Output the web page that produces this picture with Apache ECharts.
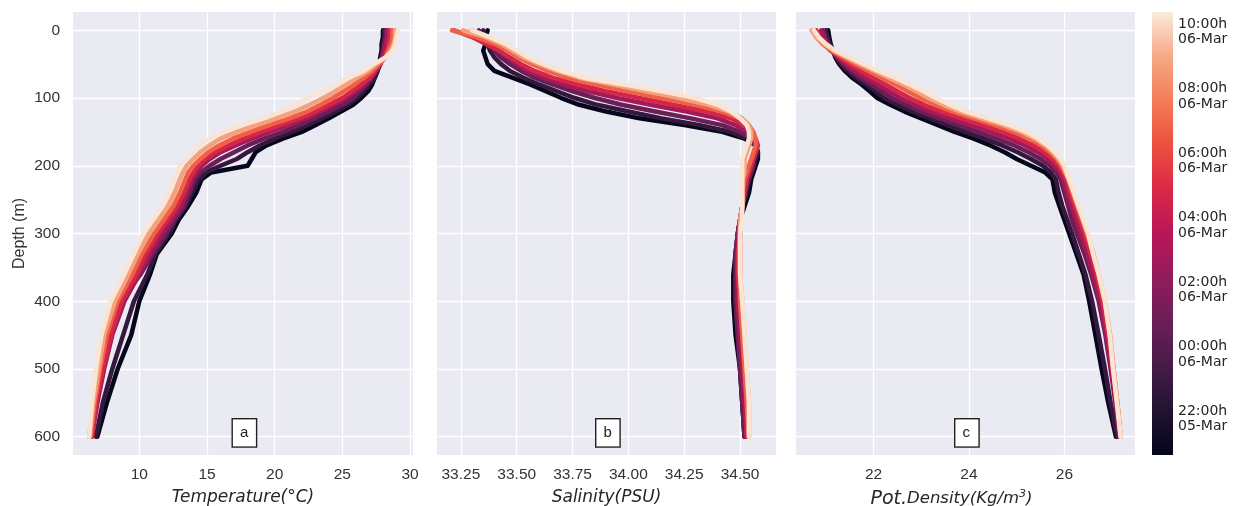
<!DOCTYPE html>
<html><head><meta charset="utf-8">
<script src="https://cdn.jsdelivr.net/npm/echarts@6/dist/echarts.min.js"></script>
<style>html,body{margin:0;padding:0;background:#fff}#c{width:1234px;height:506px}</style>
</head><body><div id="c"></div>
<script>
// ---- data ----
const depths = [0,10,20,30,40,50,60,70,80,90,100,110,120,130,140,150,160,170,180,190,200,210,220,240,260,280,300,330,360,400,450,500,550,600];
// profile times in hours since 05-Mar 00:00
const profileTimes = [21.0, 23.0, 25.0, 27.0, 29.0, 31.0, 33.0, 34.5];
const temperature = [
 [28.0,28.0,27.9,27.9,27.8,27.7,27.6,27.4,27.2,26.9,26.4,25.8,24.9,24.0,23.0,22.0,20.6,19.4,18.6,18.3,18.0,15.3,14.6,14.2,13.6,12.9,12.4,11.3,10.8,10.0,9.4,8.4,7.6,6.9],
 [28.1,28.1,28.0,28.0,27.9,27.8,27.6,27.4,27.0,26.6,26.1,25.4,24.5,23.5,22.4,21.3,20.0,18.9,18.0,17.2,16.0,14.9,14.4,13.9,13.4,12.7,12.2,11.2,10.6,9.6,8.8,8.0,7.3,6.8],
 [28.2,28.2,28.1,28.0,27.9,27.7,27.5,27.2,26.8,26.3,25.8,25.0,24.0,22.9,21.8,20.6,19.2,18.0,17.0,16.0,15.2,14.5,14.1,13.7,13.3,12.6,12.0,11.0,10.1,8.6,7.8,7.2,6.7,6.3],
 [28.3,28.3,28.2,28.1,28.0,27.8,27.5,27.1,26.6,26.0,25.3,24.4,23.4,22.3,21.0,19.6,18.3,17.1,16.0,15.2,14.6,14.2,13.9,13.5,13.1,12.4,11.7,10.8,10.0,8.9,8.0,7.4,6.9,6.5],
 [28.5,28.5,28.4,28.3,28.1,27.8,27.4,27.0,26.4,25.7,25.0,24.0,23.0,21.8,20.4,19.0,17.7,16.6,15.6,14.9,14.3,14.0,13.7,13.3,12.8,12.1,11.4,10.5,9.8,8.7,7.9,7.3,6.8,6.5],
 [28.7,28.7,28.6,28.4,28.2,27.7,27.2,26.6,25.9,25.1,24.3,23.4,22.4,21.1,19.6,18.2,16.9,15.9,15.1,14.5,14.0,13.6,13.4,13.0,12.5,11.8,11.1,10.2,9.5,8.4,7.6,7.1,6.7,6.4],
 [28.9,28.9,28.8,28.6,28.2,27.5,26.9,26.1,25.3,24.5,23.6,22.6,21.5,20.1,18.6,17.2,16.0,15.2,14.5,14.0,13.5,13.2,13.0,12.6,12.1,11.4,10.7,9.9,9.2,8.2,7.4,7.0,6.6,6.3],
 [29.1,29.0,28.9,28.7,28.2,27.3,26.6,25.5,24.6,23.5,22.4,21.5,20.5,19.2,17.6,16.2,15.2,14.5,14.0,13.5,13.0,12.8,12.6,12.2,11.7,11.0,10.3,9.6,8.9,7.9,7.2,6.8,6.5,6.3]
];
const salinity = [
 [33.37,33.36,33.36,33.35,33.36,33.37,33.40,33.48,33.56,33.63,33.70,33.78,33.90,34.05,34.25,34.42,34.52,34.57,34.58,34.58,34.57,34.56,34.55,34.54,34.52,34.50,34.49,34.48,34.47,34.47,34.48,34.50,34.51,34.52],
 [33.35,33.36,33.37,33.38,33.40,33.43,33.47,33.53,33.60,33.68,33.76,33.86,34.00,34.15,34.32,34.46,34.53,34.57,34.58,34.57,34.56,34.55,34.54,34.53,34.51,34.50,34.49,34.48,34.48,34.48,34.49,34.50,34.51,34.52],
 [33.33,33.35,33.38,33.40,33.43,33.47,33.52,33.58,33.66,33.75,33.85,33.97,34.12,34.28,34.42,34.50,34.55,34.57,34.57,34.56,34.56,34.55,34.54,34.52,34.51,34.50,34.49,34.48,34.48,34.48,34.49,34.50,34.51,34.52],
 [33.30,33.34,33.38,33.42,33.46,33.50,33.55,33.62,33.71,33.82,33.95,34.10,34.26,34.40,34.48,34.53,34.56,34.57,34.57,34.56,34.55,34.54,34.53,34.52,34.51,34.50,34.49,34.49,34.49,34.49,34.50,34.51,34.52,34.53],
 [33.22,33.30,33.36,33.42,33.47,33.52,33.58,33.66,33.77,33.90,34.05,34.20,34.35,34.46,34.52,34.55,34.57,34.58,34.57,34.56,34.55,34.54,34.53,34.52,34.51,34.50,34.50,34.49,34.49,34.50,34.51,34.52,34.53,34.53],
 [33.21,33.32,33.40,33.46,33.51,33.57,33.64,33.73,33.86,34.00,34.15,34.30,34.42,34.50,34.54,34.56,34.57,34.57,34.56,34.55,34.54,34.53,34.52,34.51,34.51,34.50,34.50,34.50,34.50,34.50,34.51,34.52,34.53,34.54],
 [33.26,33.36,33.43,33.48,33.53,33.60,33.68,33.78,33.93,34.08,34.23,34.36,34.45,34.51,34.54,34.55,34.55,34.54,34.53,34.52,34.52,34.52,34.51,34.51,34.51,34.50,34.50,34.50,34.50,34.51,34.52,34.53,34.54,34.54],
 [33.30,33.38,33.45,33.50,33.55,33.62,33.70,33.80,33.98,34.15,34.30,34.40,34.46,34.50,34.53,34.54,34.54,34.53,34.52,34.51,34.51,34.51,34.51,34.51,34.51,34.51,34.50,34.50,34.50,34.51,34.52,34.53,34.54,34.54]
];
const density = [
 [21.05,21.07,21.10,21.15,21.20,21.28,21.40,21.55,21.75,21.92,22.08,22.35,22.65,23.00,23.35,23.70,24.10,24.45,24.75,25.00,25.30,25.60,25.75,25.80,25.90,26.00,26.10,26.25,26.40,26.52,26.65,26.78,26.92,27.08],
 [21.00,21.03,21.08,21.14,21.22,21.32,21.46,21.63,21.84,22.03,22.22,22.50,22.82,23.18,23.55,23.92,24.32,24.70,25.02,25.30,25.55,25.72,25.82,25.88,25.96,26.06,26.16,26.30,26.44,26.58,26.72,26.85,26.97,27.10],
 [20.95,20.99,21.05,21.13,21.24,21.37,21.53,21.72,21.95,22.17,22.38,22.68,23.00,23.38,23.78,24.18,24.58,24.95,25.25,25.50,25.70,25.84,25.92,26.00,26.08,26.16,26.26,26.42,26.56,26.72,26.86,26.97,27.07,27.15],
 [20.90,20.95,21.02,21.12,21.26,21.42,21.61,21.83,22.08,22.32,22.56,22.86,23.20,23.60,24.02,24.45,24.85,25.18,25.45,25.65,25.80,25.90,25.98,26.06,26.15,26.24,26.34,26.48,26.60,26.75,26.88,26.98,27.08,27.16],
 [20.80,20.86,20.96,21.10,21.30,21.50,21.73,21.98,22.25,22.50,22.76,23.06,23.42,23.85,24.28,24.70,25.05,25.35,25.58,25.75,25.88,25.96,26.04,26.12,26.22,26.32,26.42,26.55,26.67,26.80,26.92,27.01,27.10,27.17],
 [20.72,20.80,20.93,21.12,21.36,21.62,21.90,22.18,22.46,22.72,22.98,23.30,23.66,24.10,24.55,24.95,25.28,25.52,25.70,25.84,25.94,26.01,26.08,26.17,26.27,26.37,26.47,26.60,26.71,26.84,26.95,27.03,27.11,27.18],
 [20.70,20.80,20.96,21.17,21.44,21.72,22.02,22.32,22.62,22.90,23.15,23.46,23.82,24.26,24.72,25.10,25.38,25.60,25.76,25.88,25.97,26.03,26.09,26.19,26.29,26.39,26.49,26.61,26.72,26.85,26.96,27.03,27.11,27.18],
 [20.75,20.85,21.00,21.20,21.50,21.80,22.10,22.45,22.75,23.05,23.30,23.60,23.95,24.40,24.85,25.20,25.45,25.65,25.80,25.92,26.00,26.05,26.10,26.20,26.30,26.40,26.50,26.60,26.72,26.85,26.95,27.02,27.10,27.18]
];
const depthTicks = [0,100,200,300,400,500,600];
const tempTicks = [10,15,20,25,30];
const salTicks = [33.25,33.5,33.75,34.0,34.25,34.5];
const denTicks = [22,24,26];
const cbTickValues = [22,24,26,28,30,32,34];
const cbTickLabels = ['22:00h\n05-Mar','00:00h\n06-Mar','02:00h\n06-Mar','04:00h\n06-Mar','06:00h\n06-Mar','08:00h\n06-Mar','10:00h\n06-Mar'];
const panelLetters = ['a','b','c'];
const timeMin = 20.88, timeMax = 34.62;

// ---- style ----
const rocket = ['#03051A','#221331','#451C47','#6A1F56','#921C5B','#B91657','#D92847','#ED503E','#F47D57','#F6A985','#FAEBDD'];
function hex2rgb(h){return [parseInt(h.slice(1,3),16),parseInt(h.slice(3,5),16),parseInt(h.slice(5,7),16)];}
function rocketAt(f){
  f=Math.max(0,Math.min(1,f));
  const p=f*(rocket.length-1), i=Math.min(Math.floor(p),rocket.length-2), r=p-i;
  const a=hex2rgb(rocket[i]), b=hex2rgb(rocket[i+1]);
  return 'rgb('+a.map((v,k)=>Math.round(v+(b[k]-v)*r)).join(',')+')';
}
const BG='#EAEAF2', TXT='#262626';
const tickFont={fontFamily:'Liberation Sans',fontSize:15.5,color:'#333'};
const panels=[
  {left:73,width:340,min:5.10,max:30.22,ticks:tempTicks,fmt:v=>String(v),vals:temperature,
   name:'Temperature(°C)',namePad:[0,0,0,0]},
  {left:437,width:339,min:33.143,max:34.661,ticks:salTicks,fmt:v=>v.toFixed(2),vals:salinity,
   name:'Salinity(PSU)',namePad:[0,0,0,0]},
  {left:796,width:339,min:20.375,max:27.48,ticks:denTicks,fmt:v=>String(v),vals:density,
   name:'{a|Pot.}{b|Density(Kg/m}{s|3}{b|)}',namePad:[0,28,0,0]}
];
const grids=[],xAxes=[],yAxes=[],series=[],graphics=[];
panels.forEach((p,pi)=>{
  grids.push({left:p.left,top:12,width:p.width,height:443,show:true,backgroundColor:BG,borderWidth:0,
    containLabel:false,outerBoundsMode:'none'});
  xAxes.push({type:'value',gridIndex:pi,min:p.min,max:p.max,
    axisLine:{show:false},axisTick:{show:false,customValues:p.ticks},
    axisLabel:Object.assign({customValues:p.ticks,formatter:p.fmt,margin:12},tickFont),
    splitLine:{show:true,lineStyle:{color:'#fff',width:1.3}},
    name:p.name,nameLocation:'middle',nameGap:34,
    nameTextStyle:{fontFamily:'DejaVu Sans',fontStyle:'italic',fontSize:17,color:TXT,padding:p.namePad,
      rich:{a:{fontFamily:'DejaVu Sans',fontStyle:'italic',fontSize:19,color:TXT},
            b:{fontFamily:'DejaVu Sans',fontStyle:'italic',fontSize:16.5,color:TXT},
            s:{fontFamily:'DejaVu Sans',fontSize:11,color:TXT,verticalAlign:'top',padding:[0,0,9,0]}}}
  });
  yAxes.push({type:'value',gridIndex:pi,inverse:true,min:-27,max:627,
    axisLine:{show:false},axisTick:{show:false,customValues:depthTicks},
    axisLabel:Object.assign({show:pi===0,customValues:depthTicks,margin:13},tickFont),
    splitLine:{show:true,lineStyle:{color:'#fff',width:1.3}},
    name:pi===0?'Depth (m)':'',nameLocation:'middle',nameGap:45,
    nameTextStyle:{fontFamily:'Liberation Sans',fontSize:16,color:'#333'}
  });
  p.vals.forEach((prof,k)=>{
    const c=rocketAt((profileTimes[k]-timeMin)/(timeMax-timeMin));
    series.push({type:'line',xAxisIndex:pi,yAxisIndex:pi,
      data:depths.map((d,i)=>[prof[i],d]),
      showSymbol:false,silent:true,animation:false,
      lineStyle:{width:4.5,color:c,join:'round',cap:'round'},itemStyle:{color:c}});
  });
  graphics.push({type:'text',left:p.left+p.width/2-11.5,top:418,z:100,
    style:{text:panelLetters[pi],font:'15px "Liberation Sans"',fill:'#222',
      backgroundColor:'#fff',borderColor:'#222',borderWidth:1.4,padding:[6,7,6,7],width:9,align:'center'}});
});
// colorbar
grids.push({left:1152,top:12,width:21,height:443,show:false,containLabel:false,outerBoundsMode:'none'});
xAxes.push({type:'value',gridIndex:3,min:0,max:1,show:false});
yAxes.push({type:'value',gridIndex:3,min:timeMin,max:timeMax,position:'right',
  axisLine:{show:false},splitLine:{show:false},
  axisTick:{show:true,length:3,lineStyle:{color:'#bbb'},customValues:cbTickValues},
  axisLabel:{customValues:cbTickValues,formatter:v=>cbTickLabels[cbTickValues.indexOf(v)],
    fontFamily:'DejaVu Sans',fontSize:14,lineHeight:15.5,color:TXT,margin:5,padding:[4,0,0,0]}
});
series.push({type:'custom',xAxisIndex:3,yAxisIndex:3,silent:true,animation:false,data:[[0]],
  renderItem:(params,api)=>{
    const a=api.coord([0,timeMax]), b=api.coord([1,timeMin]);
    return {type:'rect',shape:{x:a[0],y:a[1],width:b[0]-a[0],height:b[1]-a[1]},
      style:{fill:new echarts.graphic.LinearGradient(0,0,0,1,
        rocket.slice().reverse().map((c,i)=>({offset:i/(rocket.length-1),color:c})))}};
  }});

const chart=echarts.init(document.getElementById('c'),null,{renderer:'canvas'});
chart.setOption({backgroundColor:'#fff',animation:false,grid:grids,xAxis:xAxes,yAxis:yAxes,series:series,graphic:graphics});
</script></body></html>
